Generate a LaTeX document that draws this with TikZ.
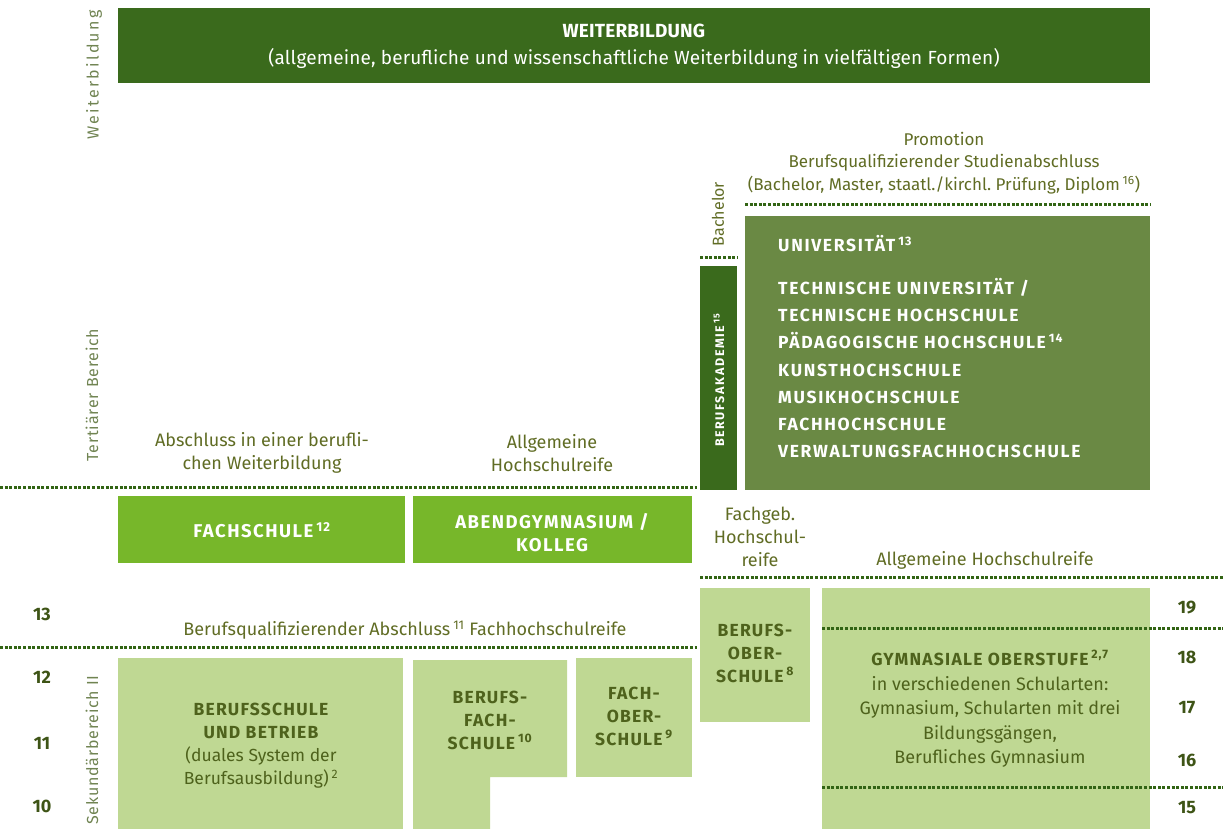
\documentclass[tikz,border=0pt]{standalone}
\usepackage{fontspec}
\setmainfont{Fira Sans}
\frenchspacing
\definecolor{dkg}{RGB}{58,106,28}
\definecolor{unig}{RGB}{106,137,68}
\definecolor{brg}{RGB}{119,183,42}
\definecolor{ltg}{RGB}{191,216,147}
\definecolor{txg}{RGB}{96,108,36}
\definecolor{boxtx}{RGB}{78,98,28}
\definecolor{numg}{RGB}{62,84,22}
\definecolor{sideg}{RGB}{112,132,82}
\definecolor{dotg}{RGB}{50,100,20}
\newcommand{\capsfont}{\bfseries\addfontfeature{LetterSpace=7}}
\newcommand{\supx}[1]{\,\textsuperscript{#1}}
\begin{document}
\begin{tikzpicture}[x=1pt,y=-1pt,
  boxbase/.style={inner sep=0pt, outer sep=0pt, anchor=north west, draw=none},
  darkbox/.style={boxbase, fill=dkg, text=white},
  unibox/.style={boxbase, fill=unig},
  brightbox/.style={boxbase, fill=brg},
  lightbox/.style={boxbase, fill=ltg},
  lbl/.style={text=txg, font=\fontsize{18}{23}\selectfont, align=center, inner sep=0pt},
  brighttxt/.style={text=white, font=\fontsize{18.5}{23}\selectfont\bfseries\addfontfeature{LetterSpace=8}, align=center, inner sep=0pt},
  lighttxt/.style={text=boxtx, font=\fontsize{17.5}{23}\selectfont\capsfont, align=center, inner sep=0pt},
  num/.style={text=numg, font=\bfseries\fontsize{18}{20}\selectfont, inner sep=0pt},
  side/.style={text=sideg, rotate=90, inner sep=0pt},
  dotline/.style={draw=dotg, line width=3pt, dash pattern=on 3pt off 1.6pt}
]
\useasboundingbox (0,0) rectangle (1223,829);

% top box
\node[darkbox, minimum width=1032pt, minimum height=75pt] (wb) at (118,8) {};
\node[text=white, font=\fontsize{19}{27}\selectfont\addfontfeature{LetterSpace=1}, align=center, inner sep=0pt] (wbt) at (634,46)
  {{\bfseries WEITERBILDUNG}\\(allgemeine, berufliche und wissenschaftliche Weiterbildung in vielfältigen Formen)};

% side labels
\node[side, font=\fontsize{16}{18}\selectfont\addfontfeature{LetterSpace=14}] (sWeiter) at (94,75) {Weiterbildung};
\node[side, font=\fontsize{16}{18}\selectfont\addfontfeature{LetterSpace=5}] (sTert) at (92,395) {Tertiärer Bereich};
\node[side, font=\fontsize{16}{18}\selectfont\addfontfeature{LetterSpace=5}] (sSek) at (92,750) {Sekundärbereich II};

% tertiary upper
\node[lbl, font=\fontsize{17}{22.5}\selectfont] (prom) at (944,163) {Promotion\\Berufsqualifizierender Studienabschluss\\(Bachelor, Master, staatl./kirchl. Prüfung, Diplom\supx{16})};
\draw[dotline] (745,205) -- (1150,205);
\node[text=txg, font=\fontsize{16}{18}\selectfont, rotate=90, inner sep=0pt] (bach) at (718,214) {Bachelor};
\draw[dotline] (700,257) -- (737,257);

\node[darkbox, minimum width=37pt, minimum height=224pt] (ba) at (700,266) {};
\node[text=white, font=\bfseries\fontsize{12.5}{13}\selectfont\addfontfeature{LetterSpace=13}, rotate=90, inner sep=0pt] (bat) at (719,380) {BERUFSAKADEMIE\supx{15}};

\node[unibox, minimum width=405pt, minimum height=274pt] (uni) at (745,216) {};
\node[text=white, font=\fontsize{17.5}{27.3}\selectfont\bfseries\addfontfeature{LetterSpace=9.5}, align=left, anchor=north west, inner sep=0pt] (unit) at (778,235)
  {UNIVERSITÄT\supx{13}\\[15.5pt]
   TECHNISCHE UNIVERSITÄT /\\
   TECHNISCHE HOCHSCHULE\\
   PÄDAGOGISCHE HOCHSCHULE\supx{14}\\
   KUNSTHOCHSCHULE\\
   MUSIKHOCHSCHULE\\
   FACHHOCHSCHULE\\
   VERWALTUNGSFACHHOCHSCHULE};

\node[lbl] (absW) at (262,453) {Abschluss in einer berufli-\\chen Weiterbildung};
\node[lbl] (ahr1) at (552,453) {Allgemeine\\Hochschulreife};
\draw[dotline] (0,487) -- (697,487);

\node[brightbox, minimum width=287pt, minimum height=67pt] (fs) at (118,496) {};
\node[brighttxt] (fst) at (262,530) {FACHSCHULE\supx{12}};
\node[brightbox, minimum width=279pt, minimum height=67pt] (ag) at (413,496) {};
\node[brighttxt] (agt) at (552,533) {ABENDGYMNASIUM /\\KOLLEG};

\node[lbl] (fgh) at (760,537) {Fachgeb.\\Hochschul-\\reife};
\node[lbl] (ahr2) at (985,560) {Allgemeine Hochschulreife};
\draw[dotline] (700,577) -- (1223,577);

\node[num] (n13) at (42,614) {13};
\node[lbl] (bqa) at (405,630) {Berufsqualifizierender Abschluss\supx{11} Fachhochschulreife};
\draw[dotline] (0,647) -- (697,647);

% secondary boxes
\node[lightbox, minimum width=285pt, minimum height=171pt] (bs) at (118,658) {};
\node[lighttxt] (bst) at (261,746) {BERUFSSCHULE\\UND BETRIEB\\{\mdseries\addfontfeature{LetterSpace=0}(duales System der}\\{\mdseries\addfontfeature{LetterSpace=0}Berufsausbildung)\supx{2}}};

\fill[ltg] (413,660) -- (567,660) -- (567,777) -- (490,777) -- (490,829) -- (413,829) -- cycle;
\node[lighttxt] (bfs) at (490,720) {BERUFS-\\FACH-\\SCHULE\supx{10}};

\node[lightbox, minimum width=116pt, minimum height=119pt] (fos) at (576,658) {};
\node[lighttxt] (fost) at (634,716) {FACH-\\OBER-\\SCHULE\supx{9}};

\node[lightbox, minimum width=110pt, minimum height=134pt] (bos) at (700,588) {};
\node[lighttxt] (bost) at (755,653) {BERUFS-\\OBER-\\SCHULE\supx{8}};

\node[lightbox, minimum width=328pt, minimum height=241pt] (gos) at (822,588) {};
\node[lighttxt] (gost) at (990,658) {GYMNASIALE OBERSTUFE\supx{2,7}};
\node[lbl, text=boxtx, font=\fontsize{18}{24.5}\selectfont] (gosd) at (990,722) {in verschiedenen Schularten:\\Gymnasium, Schularten mit drei\\Bildungsgängen,\\Berufliches Gymnasium};

\draw[dotline] (822,628) -- (1223,628);
\draw[dotline] (822,787) -- (1223,787);

\node[num] (n12) at (42,677) {12};
\node[num] (n11) at (42,743) {11};
\node[num] (n10) at (42,806) {10};
\node[num] (n19) at (1187,608) {19};
\node[num] (n18) at (1187,657) {18};
\node[num] (n17) at (1187,708) {17};
\node[num] (n16) at (1187,760) {16};
\node[num] (n15) at (1187,808) {15};
\end{tikzpicture}
\end{document}
